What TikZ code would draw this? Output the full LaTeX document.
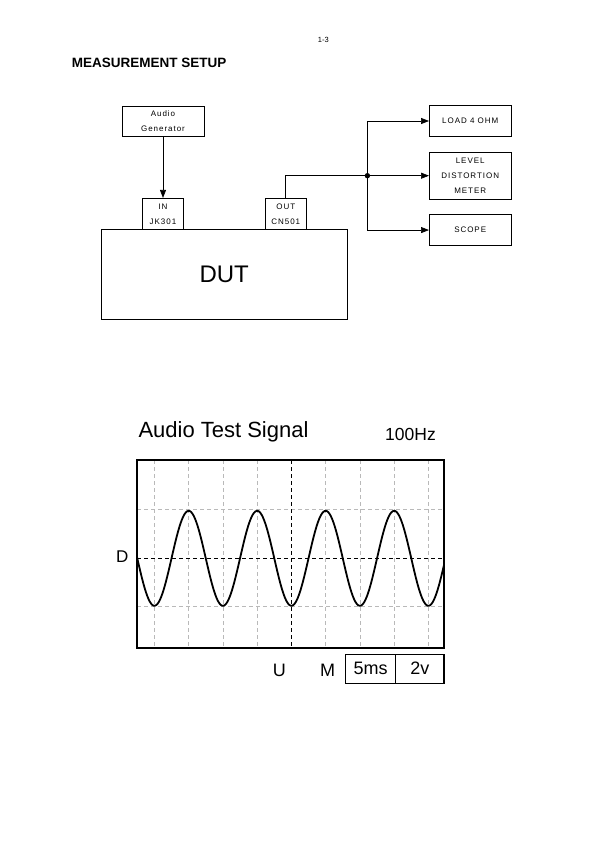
\documentclass[tikz,border=0pt]{standalone}
\usepackage{fontspec}
\setmainfont{Liberation Sans}
\newfontfamily\boxfont[LetterSpace=12]{Liberation Sans}
\usetikzlibrary{positioning,arrows.meta}
\tikzstyle{every node}=[inner sep=0pt]
\tikzstyle{unit}=[draw,line width=0.7pt,align=center,font=\boxfont\fontsize{8}{15}\selectfont]
\tikzstyle{feed}=[line width=0.7pt,-{Triangle[length=8pt,width=6pt]}]
\tikzstyle{grid line}=[gray!55,line width=0.5pt,dash pattern=on 4pt off 3pt]
\tikzstyle{axis line}=[line width=0.6pt,dash pattern=on 4pt off 3pt]
\tikzstyle{readout}=[draw,line width=1.1pt,outer sep=0pt,minimum height=29.3pt,font=\fontsize{18}{20}\selectfont]

\begin{document}
\begin{tikzpicture}[x=1pt,y=-1pt]
\useasboundingbox (0,0) rectangle (595,842);
\node[font=\fontsize{7.5}{8}\selectfont] (page) at (323.3,40) {1-3};
\node[anchor=west,font=\bfseries\fontsize{13.5}{15}\selectfont] (setup) at (71.7,63.3) {MEASUREMENT SETUP};
\node[unit,minimum width=82pt,minimum height=30.7pt] (gen) at (163,121.3) {Audio\\Generator};
\node[unit,minimum width=41pt,minimum height=31pt] (in) at (163,213.8) {IN\\JK301};
\node[unit,minimum width=41pt,minimum height=31pt] (out) at (285.8,213.8) {OUT\\CN501};
\node[draw,line width=0.7pt,minimum width=246.3pt,minimum height=90pt,font=\fontsize{24}{28}\selectfont] (dut) at (224.2,274.3) {DUT};
\node[unit,minimum width=81.7pt,minimum height=30.6pt] (load) at (470.2,121) {LOAD 4 OHM};
\node[unit,minimum width=81.7pt,minimum height=46.6pt,below=15.4pt of load] (meter) {LEVEL\\DISTORTION\\METER};
\node[unit,minimum width=81.7pt,minimum height=30.7pt,below=15pt of meter] (scope) {SCOPE};
\coordinate (split) at ([xshift=-61.6pt]meter.west);
\draw[feed] (gen) -- (in);
\draw[line width=0.7pt] (out.north) |- (split);
\fill (split) circle (2.7pt);
\draw[feed] (split) -- (meter.west);
\draw[feed] (split) |- (load.west);
\draw[feed] (split) |- (scope.west);

\node[anchor=base west,font=\fontsize{22}{26}\selectfont] (signal) at (138.3,437.7) {Audio Test Signal};
\node[anchor=base west,font=\fontsize{17.5}{20}\selectfont] (freq) at (385,440) {100Hz};
\foreach \i in {0,1,2,3,5,6,7,8}
  \draw[grid line] ({154.4+34.25*\i},460) -- ++(0,188.3);
\draw[grid line] (137,509.3) -- (444,509.3);
\draw[grid line] (137,606.7) -- (444,606.7);
\draw[axis line] (291.4,460) -- (291.4,648.3);
\draw[axis line] (137,558.3) -- (444,558.3);
\draw[line width=1.8pt,smooth,samples=240,domain=137:444]
  plot (\x,{558.3+47.5*cos(5.2555*(\x-154.4))});
\draw[line width=2pt] (137,460) rectangle (444,648.3);
\node[anchor=base west,font=\fontsize{17}{20}\selectfont] (dlabel) at (116,562.7) {D};
\node[anchor=base west,font=\fontsize{18}{20}\selectfont] (ulabel) at (272.7,676.7) {U};
\node[anchor=base west,font=\fontsize{18}{20}\selectfont] (mlabel) at (320,676.7) {M};
\node[readout,minimum width=50pt] (time) at (370.7,668.7) {5ms};
\node[readout,minimum width=48.3pt,right=0pt of time] (volt) {2v};
\end{tikzpicture}
\end{document}
